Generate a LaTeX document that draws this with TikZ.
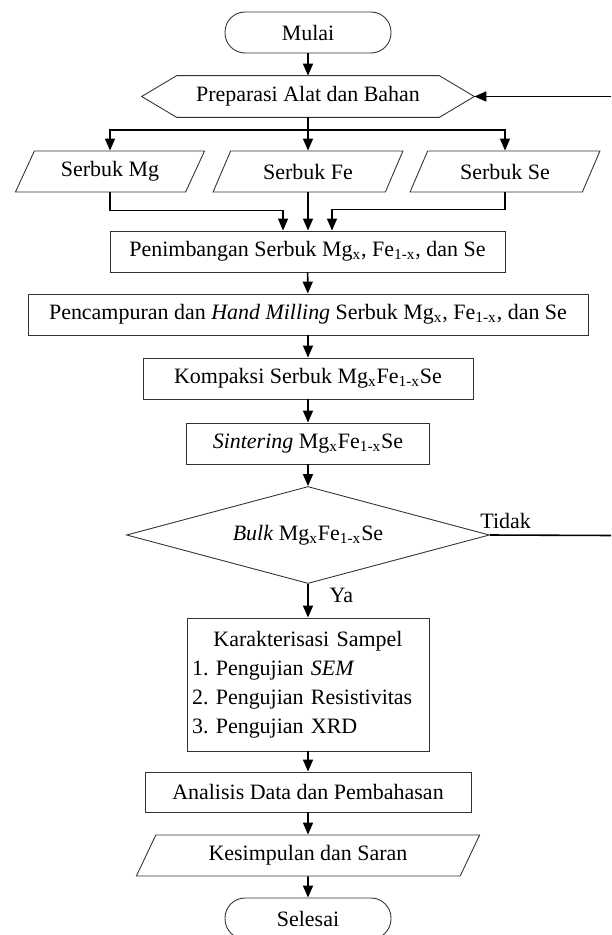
\documentclass[tikz,border=0pt]{standalone}
\usepackage{fontspec}
\setmainfont{Liberation Serif}
\usetikzlibrary{shapes.geometric,arrows.meta}
\frenchspacing
\tikzset{
  kotak/.style={draw=black!80,line width=0.5pt,minimum height=0.82cm,inner sep=2pt},
  terminal/.style={kotak,rounded corners=0.4cm,minimum width=3.32cm},
  datain/.style={kotak,trapezium,trapezium left angle=64,trapezium right angle=116,
    trapezium stretches=true},
  keputusan/.style={kotak,diamond,aspect=3.74,minimum width=7.26cm,minimum height=1.94cm},
  panah/.style={line width=0.9pt,-{Triangle[length=0.24cm,width=0.2cm]}},
  garis/.style={line width=0.9pt}
}
\def\Mg{Mg\textsubscript{x}}
\def\Fe{Fe\textsubscript{1-x}}

\begin{document}
\begin{tikzpicture}[x=0.02cm,y=-0.02cm,font=\fontsize{12.5}{15}\selectfont]
	\useasboundingbox (0,0) rectangle (611,935);
	% alur atas
	\node[terminal] (mulai) at (308,32.5) {Mulai};
	\node[minimum width=5.24cm,minimum height=0.82cm,inner sep=2pt] (prep) at (308,96.5) {Preparasi Alat dan Bahan};
	\draw[draw=black!80,line width=0.5pt] (prep.north west) -- (prep.north east) -- ([xshift=0.7cm]prep.east) coordinate (prepR)
		-- (prep.south east) -- (prep.south west) -- ([xshift=-0.7cm]prep.west) -- cycle;
	\node[datain,minimum width=3.8cm] (mg) at (110,171.5) {Serbuk Mg};
	\node[datain,minimum width=3.8cm] (fe) at (308,171.5) {Serbuk Fe};
	\node[datain,minimum width=3.8cm] (se) at (505,171.5) {Serbuk Se};
	\node[kotak,minimum width=7.9cm] (timbang) at (307.5,251.5) {Penimbangan Serbuk \Mg, \Fe, dan Se};
	\node[kotak,minimum width=11.2cm] (campur) at (308,314.5) {Pencampuran dan \textit{Hand Milling} Serbuk \Mg, \Fe, dan Se};
	\node[kotak,minimum width=6.6cm] (kompak) at (308,378.5) {Kompaksi Serbuk \Mg\Fe Se};
	\node[kotak,minimum width=4.86cm] (sinter) at (308,443.5) {\textit{Sintering} \Mg\Fe Se};
	\node[keputusan] (bulk) at (308,535) {\textit{Bulk} \Mg\Fe Se};
	% alur bawah
	\node[kotak,minimum width=4.84cm,minimum height=2.66cm,text width=4.64cm,align=left,
		font=\fontsize{12.5}{16.5}\selectfont] (karak) at (308,684.5)
		{\makebox[\hsize]{Karakterisasi Sampel}\\1. Pengujian \textit{SEM}\\2. Pengujian Resistivitas\\3. Pengujian XRD};
	\node[kotak,minimum width=6.52cm,minimum height=0.8cm] (analisis) at (308,792) {Analisis Data dan Pembahasan};
	\node[datain,minimum width=6.88cm] (simpul) at (308,855.5) {Kesimpulan dan Saran};
	\node[terminal] (selesai) at (308,918.5) {Selesai};

	\coordinate (cabang) at (308,130);
	\coordinate (kembali) at (611,96.5);
	\coordinate (tidakR) at (611,535.5);

	\draw[panah] (mulai) -- (prep);
	\draw[garis] (prep) -- (cabang);
	\draw[panah] (cabang) -| (mg);
	\draw[panah] (cabang) -- (fe);
	\draw[panah] (cabang) -| (se);
	\draw[panah] (mg.south) -- ++(0,18) -| ([xshift=-0.49cm]timbang.north);
	\draw[panah] (fe.south) -- (fe.south |- timbang.north);
	\draw[panah] (se.south) -- ++(0,17) -| ([xshift=0.49cm]timbang.north);
	\draw[panah] (timbang) -- (campur);
	\draw[panah] (campur) -- (kompak);
	\draw[panah] (kompak) -- (sinter);
	\draw[panah] (sinter) -- (bulk);
	\draw[panah] (bulk) -- node[pos=0.35,right,xshift=0.3cm] (ya) {Ya} (karak);
	\draw[garis] (bulk.east) -- node[pos=0.13,above] (tidak) {Tidak} (tidakR);
	\draw[panah] (kembali) -- (prepR);
	\draw[panah] (karak) -- (analisis);
	\draw[panah] (analisis) -- (simpul);
	\draw[panah] (simpul) -- (selesai);
\end{tikzpicture}
\end{document}
